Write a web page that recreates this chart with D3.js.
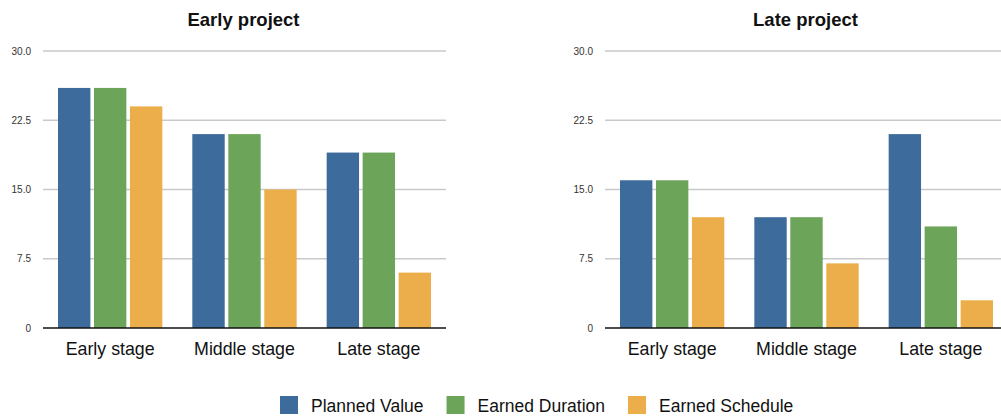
<!DOCTYPE html>
<html>
<head>
<meta charset="utf-8">
<script src="https://cdn.jsdelivr.net/npm/d3@7"></script>
<style>
  html, body { margin: 0; padding: 0; background: #fff; }
  svg { display: block; font-family: "Liberation Sans", Arial, Helvetica, sans-serif; }
</style>
</head>
<body>
<div id="chart"></div>
<script>
const stages = ["Early stage", "Middle stage", "Late stage"];
const seriesNames = ["Planned Value", "Earned Duration", "Earned Schedule"];
const seriesColors = ["#3d6b9c", "#6ca55a", "#ecae4b"];
const yTicks = [0, 7.5, 15, 22.5, 30];

// values per stage: [Planned Value, Earned Duration, Earned Schedule]
const earlyProject = [[26, 26, 24], [21, 21, 15], [19, 19, 6]];
const lateProject = [[16, 16, 12], [12, 12, 7], [21, 11, 3]];

const width = 1001, height = 417;
const svg = d3.select("#chart").append("svg")
    .attr("width", width)
    .attr("height", height);

const y = d3.scaleLinear().domain([0, 30]).range([328, 51]);

function drawPanel(title, values, left, right) {
    const g = svg.append("g");
    const x0 = d3.scaleBand().domain(stages).range([left, right]).padding(0);
    const x1 = d3.scaleBand().domain(seriesNames)
        .range([15, x0.bandwidth() - 15])
        .paddingInner(0.1).paddingOuter(0);

    // gridlines + labels
    g.selectAll(".grid")
        .data(yTicks.filter(t => t > 0))
        .enter().append("line")
        .attr("x1", left).attr("x2", right)
        .attr("y1", d => y(d)).attr("y2", d => y(d))
        .attr("stroke", "#c9c9c9")
        .attr("stroke-width", 1.5);

    g.selectAll(".ylab")
        .data(yTicks)
        .enter().append("text")
        .attr("x", left - 12)
        .attr("y", d => y(d) + 3.5)
        .attr("text-anchor", "end")
        .attr("font-size", 10)
        .attr("fill", "#333")
        .text(d => d === 0 ? "0" : d3.format(".1f")(d));

    const groups = g.selectAll(".stage")
        .data(values)
        .enter().append("g")
        .attr("transform", (d, i) => `translate(${x0(stages[i])},0)`);

    groups.selectAll("rect")
        .data(d => d.map((v, j) => ({ v, name: seriesNames[j], color: seriesColors[j] })))
        .enter().append("rect")
        .attr("x", d => x1(d.name))
        .attr("width", x1.bandwidth())
        .attr("y", d => y(d.v))
        .attr("height", d => y(0) - y(d.v))
        .attr("fill", d => d.color);

    g.append("line")
        .attr("x1", left).attr("x2", right)
        .attr("y1", y(0)).attr("y2", y(0))
        .attr("stroke", "#111")
        .attr("stroke-width", 1.5);

    g.selectAll(".xlab")
        .data(stages)
        .enter().append("text")
        .attr("x", d => x0(d) + x0.bandwidth() / 2)
        .attr("y", 355)
        .attr("text-anchor", "middle")
        .attr("font-size", 17.8)
        .attr("fill", "#111")
        .text(d => d);

    g.append("text")
        .attr("x", (left + right) / 2 - 1)
        .attr("y", 26)
        .attr("text-anchor", "middle")
        .attr("font-size", 18.5)
        .attr("font-weight", "bold")
        .attr("fill", "#111")
        .text(title);
}

drawPanel("Early project", earlyProject, 43, 446);
drawPanel("Late project", lateProject, 605, 1008);

// legend
const legend = svg.append("g");
let lx = 280;
seriesNames.forEach((name, i) => {
    legend.append("rect")
        .attr("x", lx).attr("y", 396)
        .attr("width", 18).attr("height", 18)
        .attr("fill", seriesColors[i]);
    const t = legend.append("text")
        .attr("x", lx + 31)
        .attr("y", 412)
        .attr("font-size", 17.5)
        .attr("fill", "#111")
        .text(name);
    lx += 31 + t.node().getComputedTextLength() + 23;
});
</script>
</body>
</html>
